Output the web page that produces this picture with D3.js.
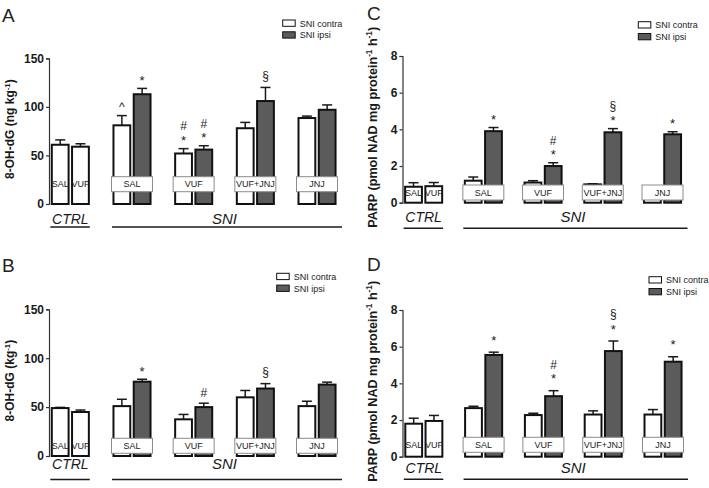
<!DOCTYPE html>
<html>
<head>
<meta charset="utf-8">
<script src="https://cdn.jsdelivr.net/npm/d3@7/dist/d3.min.js"></script>
<style>
  html, body { margin: 0; padding: 0; background: #fff; }
  svg { display: block; font-family: "Liberation Sans", Arial, Helvetica, sans-serif; }
</style>
</head>
<body>
<svg id="chart" width="709" height="488"></svg>
<script>
// ---------------- DATA ----------------
const groups = ["CTRL", "SAL", "VUF", "VUF+JNJ", "JNJ"];
const ctrlLabels = ["SAL", "VUF"];
const sniGroups = ["SAL", "VUF", "VUF+JNJ", "JNJ"];
const seriesNames = ["SNI contra", "SNI ipsi"];
const tick8OH = [0, 50, 100, 150];
const tickPARP = [0, 2, 4, 6, 8];

// Panel A: 8-OH-dG (ng kg-1)
const aCtrl = [61, 59];
const aCtrlErr = [5, 3];
const aContra = [81, 52, 78, 88.5];
const aContraErr = [10, 5, 6, 2];
const aIpsi = [113, 56, 106, 97];
const aIpsiErr = [6, 4, 14, 5];
const aContraMarks = [["^"], ["*", "#"], [], []];
const aIpsiMarks = [["*"], ["*", "#"], ["§"], []];

// Panel B: 8-OH-dG (kg-1)
const bCtrl = [49, 45];
const bCtrlErr = [0.7, 2];
const bContra = [51, 37.5, 60, 51];
const bContraErr = [7, 5, 7, 5];
const bIpsi = [76, 50, 69, 73];
const bIpsiErr = [2.5, 4, 5, 2.5];
const bContraMarks = [[], [], [], []];
const bIpsiMarks = [["*"], ["#"], ["§"], []];

// Panel C: PARP
const cCtrl = [0.87, 0.9];
const cCtrlErr = [0.22, 0.2];
const cContra = [1.2, 1.1, 1.0, 0.87];
const cContraErr = [0.2, 0.1, 0.03, 0.03];
const cIpsi = [3.9, 2.0, 3.84, 3.73];
const cIpsiErr = [0.2, 0.18, 0.2, 0.14];
const cContraMarks = [[], [], [], []];
const cIpsiMarks = [["*"], ["*", "#"], ["*", "§"], ["*"]];

// Panel D: PARP
const dCtrl = [1.8, 1.95];
const dCtrlErr = [0.3, 0.3];
const dContra = [2.65, 2.27, 2.3, 2.3];
const dContraErr = [0.1, 0.1, 0.2, 0.27];
const dIpsi = [5.55, 3.3, 5.76, 5.18];
const dIpsiErr = [0.15, 0.3, 0.55, 0.27];
const dContraMarks = [[], [], [], []];
const dIpsiMarks = [["*"], ["*", "#"], ["*", "§"], ["*"]];

const label8OHng = [["8-OH-dG (ng kg", false], ["-1", true], [")", false]];
const label8OH = [["8-OH-dG (kg", false], ["-1", true], [")", false]];
const labelPARP = [["PARP (pmol NAD mg protein", false], ["-1", true], [" h", false], ["-1", true], [")", false]];

// ---------------- LAYOUT ----------------
const panels = [
  { letter: "A", ctrl: aCtrl, ctrlErr: aCtrlErr, contra: aContra, contraErr: aContraErr, ipsi: aIpsi, ipsiErr: aIpsiErr,
    contraMarks: aContraMarks, ipsiMarks: aIpsiMarks, ticks: tick8OH, ylabel: label8OHng, ylabSize: 12,
    L: { axisX: 49, y0: 204, yTop: 58.3, c0: 70.3, c4: 317, boxLift: 12.3, textBase: 20, lineOff: 23,
         legX: 282.7, legY: 20, letX: 2, letY: 22, ylabX: 10, markGap: 11 } },
  { letter: "B", ctrl: bCtrl, ctrlErr: bCtrlErr, contra: bContra, contraErr: bContraErr, ipsi: bIpsi, ipsiErr: bIpsiErr,
    contraMarks: bContraMarks, ipsiMarks: bIpsiMarks, ticks: tick8OH, ylabel: label8OH, ylabSize: 12,
    L: { axisX: 49, y0: 456, yTop: 309.3, c0: 70.3, c4: 317, boxLift: 2.7, textBase: 13, lineOff: 23.5,
         legX: 276.7, legY: 273.3, letX: 2, letY: 272, ylabX: 10, markGap: 11 } },
  { letter: "C", ctrl: cCtrl, ctrlErr: cCtrlErr, contra: cContra, contraErr: cContraErr, ipsi: cIpsi, ipsiErr: cIpsiErr,
    contraMarks: cContraMarks, ipsiMarks: cIpsiMarks, ticks: tickPARP, ylabel: labelPARP, ylabSize: 12.6,
    L: { axisX: 402.5, y0: 202.7, yTop: 56, c0: 423.6, c4: 662.5, boxLift: 2.7, textBase: 19, lineOff: 25.6,
         legX: 638.3, legY: 21.7, letX: 367, letY: 20, ylabX: 372.5, markGap: 11 } },
  { letter: "D", ctrl: dCtrl, ctrlErr: dCtrlErr, contra: dContra, contraErr: dContraErr, ipsi: dIpsi, ipsiErr: dIpsiErr,
    contraMarks: dContraMarks, ipsiMarks: dIpsiMarks, ticks: tickPARP, ylabel: labelPARP, ylabSize: 12.6,
    L: { axisX: 402.5, y0: 456.7, yTop: 310, c0: 423.8, c4: 663, boxLift: 4.4, textBase: 16, lineOff: 22.6,
         legX: 649, legY: 276.7, letX: 367, letY: 271, ylabX: 372.5, markGap: 15 } }
];

const DARK = "#5b5b5b";
const INK = "#1a1a1a";
const svg = d3.select("#chart");

// visual-centre offset (in em, above baseline) for annotation glyphs
const glyphCenter = { "*": 0.58, "#": 0.36, "§": 0.3, "^": 0.55 };

panels.forEach(p => {
  const L = p.L;
  const g = svg.append("g");
  const y = d3.scaleLinear().domain([p.ticks[0], p.ticks[p.ticks.length - 1]]).range([L.y0, L.yTop]);
  const x = d3.scalePoint().domain(groups).range([L.c0, L.c4]);

  // y axis
  const axis = d3.axisLeft(y).tickValues(p.ticks).tickSize(3).tickPadding(2).tickFormat(d3.format("d"));
  const ax = g.append("g").attr("transform", `translate(${L.axisX},0)`).call(axis);
  ax.select(".domain").attr("stroke", "#333").attr("stroke-width", 1.2);
  ax.selectAll(".tick line").attr("stroke", "#333").attr("stroke-width", 1.2);
  ax.selectAll(".tick text").attr("font-size", 12).attr("font-weight", "bold").attr("fill", INK)
    .attr("font-family", "Liberation Sans, Arial, sans-serif");

  // bar records
  const bars = [];
  p.ctrl.forEach((v, i) => bars.push({ g: "CTRL", side: i, v, e: p.ctrlErr[i], fill: "#fff", marks: [] }));
  sniGroups.forEach((grp, i) => {
    bars.push({ g: grp, side: 0, v: p.contra[i], e: p.contraErr[i], fill: "#fff", marks: p.contraMarks[i] });
    bars.push({ g: grp, side: 1, v: p.ipsi[i], e: p.ipsiErr[i], fill: DARK, marks: p.ipsiMarks[i] });
  });
  const barW = 16.8;
  const bx = d => d.side === 0 ? x(d.g) - 18.5 : x(d.g) + 1.75;
  const bc = d => bx(d) + barW / 2;

  // error bars (upper only)
  g.selectAll(".err").data(bars).join("g").each(function (d) {
    const s = d3.select(this);
    s.append("line").attr("x1", bc(d)).attr("x2", bc(d)).attr("y1", y(d.v)).attr("y2", y(d.v + d.e))
      .attr("stroke", INK).attr("stroke-width", 1.5);
    s.append("line").attr("x1", bc(d) - 5).attr("x2", bc(d) + 5).attr("y1", y(d.v + d.e)).attr("y2", y(d.v + d.e))
      .attr("stroke", INK).attr("stroke-width", 1.5);
  });

  // bars
  g.selectAll(".bar").data(bars).join("rect")
    .attr("x", bx).attr("width", barW)
    .attr("y", d => y(d.v)).attr("height", d => L.y0 - y(d.v))
    .attr("fill", d => d.fill).attr("stroke", "#111").attr("stroke-width", 2);

  // label boxes for SNI groups
  const boxH = 15;
  const boxTop = L.y0 - L.boxLift - boxH;
  g.selectAll(".lbox").data(sniGroups).join("rect")
    .attr("x", d => x(d) - 20.5).attr("width", 41)
    .attr("y", boxTop).attr("height", boxH)
    .attr("fill", "#fff").attr("stroke", "#8c8c8c").attr("stroke-width", 1);
  g.selectAll(".ltxt").data(sniGroups).join("text")
    .attr("x", d => x(d)).attr("y", boxTop + boxH / 2 + 3.2)
    .attr("text-anchor", "middle").attr("font-size", 9).attr("fill", "#222").text(d => d);

  // CTRL in-bar labels
  g.selectAll(".ctxt").data(bars.filter(b => b.g === "CTRL")).join("text")
    .attr("x", bc).attr("y", boxTop + boxH / 2 + 3.2)
    .attr("text-anchor", "middle").attr("font-size", 9).attr("fill", "#222")
    .text(d => ctrlLabels[d.side]);

  // significance marks
  bars.forEach(d => {
    let cy = y(d.v + d.e) - L.markGap;
    d.marks.forEach(m => {
      const fs = m === "*" ? 13 : 12;
      g.append("text").attr("x", bc(d)).attr("y", cy + glyphCenter[m] * fs)
        .attr("text-anchor", "middle").attr("font-size", fs).attr("fill", "#222").text(m);
      cy -= 11.5;
    });
  });

  // group labels and underlines
  const ctrlL = x("CTRL") - 20, ctrlR = x("CTRL") + 19.5;
  const sniL = x("SAL") - 20, sniR = x("JNJ") + 25;
  g.append("line").attr("x1", ctrlL).attr("x2", ctrlR).attr("y1", L.y0 + L.lineOff).attr("y2", L.y0 + L.lineOff)
    .attr("stroke", INK).attr("stroke-width", 1.5);
  g.append("line").attr("x1", sniL).attr("x2", sniR).attr("y1", L.y0 + L.lineOff).attr("y2", L.y0 + L.lineOff)
    .attr("stroke", INK).attr("stroke-width", 1.5);
  g.append("text").attr("x", x("CTRL")).attr("y", L.y0 + L.textBase).attr("text-anchor", "middle")
    .attr("font-size", 14).attr("font-style", "italic").attr("fill", INK).text("CTRL");
  g.append("text").attr("x", (x("SAL") + x("JNJ")) / 2).attr("y", L.y0 + L.textBase).attr("text-anchor", "middle")
    .attr("font-size", 15).attr("font-style", "italic").attr("fill", INK).text("SNI");

  // legend
  seriesNames.forEach((s, i) => {
    const ly = L.legY + i * 11.8;
    g.append("rect").attr("x", L.legX).attr("y", ly).attr("width", 12.5).attr("height", 6.3)
      .attr("fill", i === 0 ? "#fff" : DARK).attr("stroke", "#111").attr("stroke-width", 1);
    g.append("text").attr("x", L.legX + 17).attr("y", ly + 6.5).attr("font-size", 9)
      .attr("fill", "#222").text(s);
  });

  // y label
  const cy = (L.y0 + L.yTop) / 2 - 2;
  const yl = g.append("text")
    .attr("transform", `translate(${L.ylabX + 4.3},${cy}) rotate(-90)`)
    .attr("text-anchor", "middle").attr("font-size", p.ylabSize).attr("font-weight", "bold").attr("fill", INK);
  p.ylabel.forEach(([t, sup], i) => {
    const ts = yl.append("tspan").text(t);
    if (sup) ts.attr("font-size", p.ylabSize * 0.65).attr("dy", -p.ylabSize * 0.4);
    else if (i > 0 && p.ylabel[i - 1][1]) ts.attr("dy", p.ylabSize * 0.4);
  });

  // panel letter
  g.append("text").attr("x", L.letX).attr("y", L.letY).attr("font-size", 19).attr("fill", "#222").text(p.letter);
});
</script>
</body>
</html>
